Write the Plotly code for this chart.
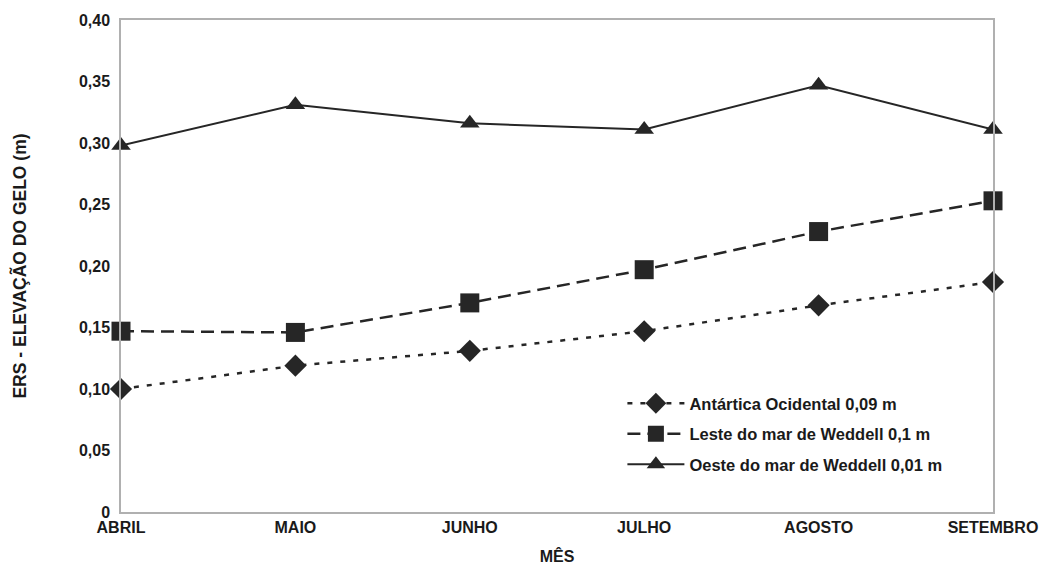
import plotly.graph_objects as go

meses = ["ABRIL", "MAIO", "JUNHO", "JULHO", "AGOSTO", "SETEMBRO"]
antartica_ocidental = [0.100, 0.119, 0.131, 0.147, 0.168, 0.187]
leste_weddell = [0.147, 0.146, 0.170, 0.197, 0.228, 0.253]
oeste_weddell = [0.298, 0.331, 0.316, 0.311, 0.347, 0.311]
y_ticks = [0, 0.05, 0.10, 0.15, 0.20, 0.25, 0.30, 0.35, 0.40]
y_labels = ["0", "0,05", "0,10", "0,15", "0,20", "0,25", "0,30", "0,35", "0,40"]

dark = "#262626"
font = "Liberation Sans, Arial, sans-serif"

fig = go.Figure()
fig.add_trace(go.Scatter(
    x=meses, y=antartica_ocidental, name="<b>Antártica Ocidental 0,09 m</b>",
    mode="lines+markers", cliponaxis=False, legendgroup="a",
    line=dict(color=dark, width=2.5, dash="5px,8px"),
    marker=dict(symbol="diamond", size=17, color=dark)))
fig.add_trace(go.Scatter(
    x=meses, y=leste_weddell, name="<b>Leste do mar de Weddell 0,1 m</b>",
    mode="lines+markers", cliponaxis=False, legendgroup="b",
    line=dict(color=dark, width=2.5, dash="13px,7px"),
    marker=dict(symbol="square", size=19, color=dark)))
fig.add_trace(go.Scatter(
    x=meses, y=oeste_weddell, name="<b>Oeste do mar de Weddell 0,01 m</b>",
    mode="lines+markers", cliponaxis=False, legendgroup="c",
    line=dict(color=dark, width=2),
    marker=dict(symbol="triangle-up", size=17, color=dark)))

fig.update_layout(
    width=1041, height=565,
    margin=dict(l=121, r=48, t=20, b=53, autoexpand=False),
    paper_bgcolor="white", plot_bgcolor="white",
    font=dict(family=font, color="#1a1a1a", size=16),
    showlegend=True,
    legend=dict(x=0.575, y=0.256, xanchor="left", yanchor="top",
                bgcolor="rgba(0,0,0,0)", font=dict(size=16.5, family=font),
                itemwidth=57, tracegroupgap=6),
)
fig.update_xaxes(
    type="category", range=[0, 5], showgrid=False, zeroline=False,
    showline=True, linecolor="#b0b0b0", linewidth=1.5, mirror=True,
    ticks="", tickfont=dict(size=16, family=font),
    tickprefix="<b>", ticksuffix="</b>",
    title=dict(text="<b>MÊS</b>", font=dict(size=16), standoff=16),
)
fig.update_yaxes(
    range=[0, 0.40], tickvals=y_ticks, ticktext=["<b>%s</b>" % t for t in y_labels],
    showgrid=False, zeroline=False,
    showline=True, linecolor="#b0b0b0", linewidth=1.5, mirror=True,
    ticks="", tickfont=dict(size=16, family=font), ticklabelstandoff=6,
    title=dict(text="<b>ERS - ELEVAÇÃO DO GELO (m)</b>", font=dict(size=17.5), standoff=48),
)

fig.write_html(
    "out.html",
    config={"displayModeBar": False},
    post_script="document.body.style.margin='0';document.body.style.overflow='hidden';",
)
